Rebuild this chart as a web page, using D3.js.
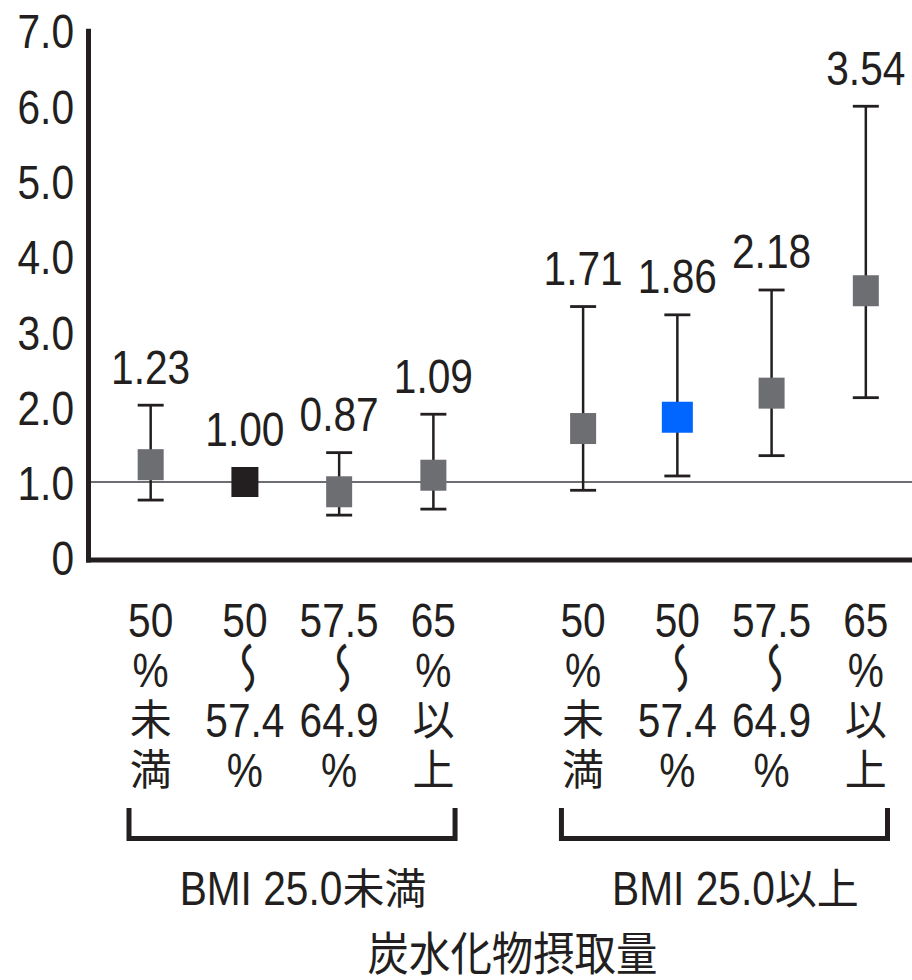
<!DOCTYPE html>
<html>
<head>
<meta charset="utf-8">
<script src="https://cdn.jsdelivr.net/npm/d3@7"></script>
<style>
  html, body { margin: 0; padding: 0; background: #fff; }
  svg { display: block; }
</style>
</head>
<body>
<script>
// BMI groups and carbohydrate-intake categories (share of energy)
const groups = ["BMI 25.0未満", "BMI 25.0以上"];
const intakeLines = [
  ["50", "%", "未", "満"],
  ["50", "〜", "57.4", "%"],
  ["57.5", "〜", "64.9", "%"],
  ["65", "%", "以", "上"]
];
const xTitle = "炭水化物摂取量";

// Odds ratios with 95% confidence intervals, group-major order
const oddsRatio = [1.23, 1.00, 0.87, 1.09, 1.71, 1.86, 2.18, 3.54];
const ciLower   = [0.76, null, 0.56, 0.64, 0.89, 1.08, 1.35, 2.12];
const ciUpper   = [2.02, null, 1.39, 1.90, 3.33, 3.22, 3.55, 5.99];
const markerRole = ["est", "ref", "est", "est", "est", "focus", "est", "est"];

const yTicks = [0, 1, 2, 3, 4, 5, 6, 7];

const INK = "#231f20";
const LATIN = "'Liberation Sans', Arial, Helvetica, sans-serif";
const CJK = "'Noto Sans CJK JP', 'Noto Sans CJK SC', sans-serif";
const LATIN_SIZE = 49, LATIN_SX = 0.83;
const CJK_SIZE = 42;
const markerStyle = {
  est:   { fill: "#6d6e71", w: 26, h: 31 },
  ref:   { fill: "#231f20", w: 27, h: 30 },
  focus: { fill: "#0066ff", w: 31, h: 31 }
};

const W = 912, H = 980;
const svg = d3.select("body").append("svg").attr("width", W).attr("height", H);

const y = d3.scaleLinear().domain([0, 7]).range([557.3, 30.2]);
const outer = d3.scaleBand().domain(groups).range([129, 887.5]).paddingInner(0.246).paddingOuter(0);
const inner = d3.scalePoint().domain(d3.range(intakeLines.length)).range([0, outer.bandwidth()]).padding(0.23);

const rows = [];
groups.forEach((g, gi) => intakeLines.forEach((lines, ci) => {
  const i = gi * intakeLines.length + ci;
  rows.push({ g, ci, lines, or: oddsRatio[i], lo: ciLower[i], hi: ciUpper[i], role: markerRole[i] });
}));
const xOf = d => outer(d.g) + inner(d.ci);

// Text made of Latin and CJK runs, each with its own font and horizontal scale
const isCJK = s => /[\u3000-\u9fff\uff00-\uffef]/.test(s);
function mixedText(parent, str, x, yb, opt = {}) {
  const anchor = opt.anchor || "middle";
  const runs = str.match(/[\u3000-\u9fff\uff00-\uffef]+|[^\u3000-\u9fff\uff00-\uffef]+/g);
  const g = parent.append("g");
  const items = runs.map(r => {
    const cjk = isCJK(r);
    const sx = cjk ? (opt.cjkSx || 1) : (opt.latinSx || LATIN_SX);
    const t = g.append("text")
      .attr("font-family", cjk ? CJK : LATIN)
      .attr("font-size", cjk ? (opt.cjkSize || CJK_SIZE) : (opt.latinSize || LATIN_SIZE))
      .attr("fill", INK)
      .text(r);
    const w = t.node().getComputedTextLength() * sx;
    return { t, w, sx, dy: cjk ? (opt.cjkDy || 0) : 0 };
  });
  const total = d3.sum(items, d => d.w);
  let x0 = anchor === "middle" ? x - total / 2 : anchor === "end" ? x - total : x;
  items.forEach(it => {
    it.t.attr("transform", `translate(${x0},${yb + it.dy}) scale(${it.sx},1)`);
    x0 += it.w;
  });
  return g;
}

// Reference line at OR = 1
svg.append("line")
  .attr("x1", 88).attr("x2", W)
  .attr("y1", y(1)).attr("y2", y(1))
  .attr("stroke", "#6d6e71").attr("stroke-width", 2);

// Y axis labels
const yAxis = d3.axisLeft(y).tickValues(yTicks).tickSize(0)
  .tickFormat(v => v === 0 ? "0" : d3.format(".1f")(v));
const yg = svg.append("g").attr("transform", "translate(74,0)").call(yAxis);
yg.select(".domain").remove();
yg.selectAll(".tick text")
  .attr("font-family", LATIN).attr("font-size", LATIN_SIZE).attr("fill", INK)
  .attr("x", 0).attr("dy", "0.36em")
  .attr("transform", `scale(${LATIN_SX},1)`);

// Axis lines
svg.append("line")
  .attr("x1", 88.5).attr("x2", 88.5)
  .attr("y1", y(7) - 1.5).attr("y2", y(0) + 5.2)
  .attr("stroke", INK).attr("stroke-width", 5);
svg.append("line")
  .attr("x1", 86).attr("x2", W)
  .attr("y1", y(0) + 2.7).attr("y2", y(0) + 2.7)
  .attr("stroke", INK).attr("stroke-width", 5);

// Confidence intervals
const ci = svg.append("g").attr("stroke", INK);
rows.filter(d => d.lo != null).forEach(d => {
  const x = xOf(d);
  ci.append("line").attr("x1", x).attr("x2", x).attr("y1", y(d.hi)).attr("y2", y(d.lo)).attr("stroke-width", 2.5);
  [d.hi, d.lo].forEach(v => ci.append("line")
    .attr("x1", x - 13).attr("x2", x + 13).attr("y1", y(v)).attr("y2", y(v)).attr("stroke-width", 2.8));
});

// Point estimates
svg.append("g").selectAll("rect").data(rows).join("rect")
  .attr("x", d => xOf(d) - markerStyle[d.role].w / 2)
  .attr("y", d => y(d.or) - markerStyle[d.role].h / 2)
  .attr("width", d => markerStyle[d.role].w)
  .attr("height", d => markerStyle[d.role].h)
  .attr("fill", d => markerStyle[d.role].fill);

// Value labels
rows.forEach(d => {
  const top = d.hi != null ? y(d.hi) : y(d.or) - markerStyle[d.role].h / 2;
  mixedText(svg, d3.format(".2f")(d.or), xOf(d), top - 21.5);
});

// Category labels (stacked lines; the wave dash is set in its vertical form)
const lineBase = [637, 687, 737, 787];
rows.forEach(d => {
  d.lines.forEach((ln, li) => {
    if (ln === "〜") {
      svg.append("text")
        .attr("font-family", CJK).attr("font-size", 42).attr("fill", INK)
        .attr("text-anchor", "middle").attr("dominant-baseline", "central")
        .attr("transform", `translate(${xOf(d) + 1},${lineBase[li] - 19}) rotate(90) scale(1.27,-1)`)
        .text(ln);
    } else {
      mixedText(svg, ln, xOf(d), lineBase[li], { cjkDy: -2 });
    }
  });
});

// Group brackets and labels
groups.forEach(g => {
  const x0 = outer(g), x1 = outer(g) + outer.bandwidth();
  svg.append("path")
    .attr("d", d3.line()([[x0, 808], [x0, 838.5], [x1, 838.5], [x1, 808]]))
    .attr("fill", "none").attr("stroke", INK).attr("stroke-width", 5)
    .attr("stroke-linejoin", "miter");
  mixedText(svg, g, (x0 + x1) / 2 + 11, 905, { cjkDy: -1 });
});

// X axis title
mixedText(svg, xTitle, 512.5, 970, { cjkSize: 46, cjkSx: 0.9 });
</script>
</body>
</html>
